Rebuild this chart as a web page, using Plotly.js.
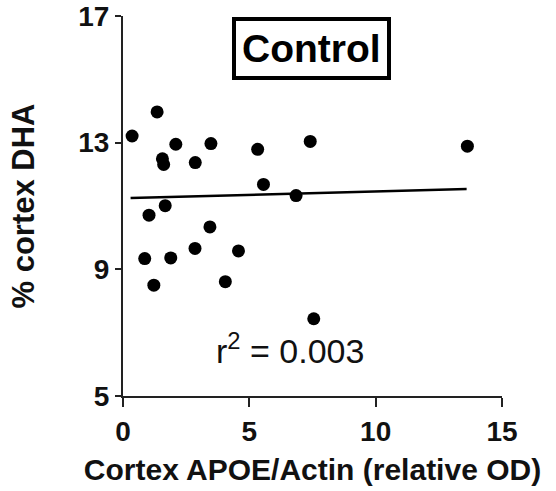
<!DOCTYPE html>
<html>
<head>
<meta charset="utf-8">
<script src="https://cdn.plot.ly/plotly-3.0.1.min.js"></script>
<style>html,body{margin:0;padding:0;background:#fff;}#chart{width:556px;height:491px;}</style>
</head>
<body>
<div id="chart"></div>
<script>
// Data
const apoe = [0.36, 1.35, 2.09, 3.48, 1.56, 1.61, 2.86, 5.33, 7.41, 13.63, 5.56, 6.85, 1.67, 1.03, 3.44, 2.85, 4.57, 0.86, 1.89, 1.22, 4.05, 7.55];
const dha  = [13.21, 13.97, 12.95, 12.97, 12.49, 12.31, 12.37, 12.79, 13.04, 12.89, 11.68, 11.33, 11.01, 10.71, 10.34, 9.66, 9.58, 9.34, 9.36, 8.50, 8.61, 7.44];
const fitX = [0.3, 13.6];
const fitY = [11.25, 11.54];
const xTicks = [0, 5, 10, 15];
const yTicks = [5, 9, 13, 17];
const groupLabel = 'Control';
const r2Label = 'r<sup>2</sup> = 0.003';
const xTitle = 'Cortex APOE/Actin (relative OD)';
const yTitle = '% cortex DHA';

const FONT = 'Liberation Sans, Arial, sans-serif';
const traces = [
  {x: fitX, y: fitY, mode: 'lines', type: 'scatter', line: {color: '#000', width: 2.5}, hoverinfo: 'skip'},
  {x: apoe, y: dha, mode: 'markers', type: 'scatter', marker: {color: '#000', size: 13}, cliponaxis: false}
];
const axisCommon = {
  showline: true, linecolor: '#222', linewidth: 2, ticks: 'outside', tickwidth: 2, tickcolor: '#222',
  showgrid: false, zeroline: false, mirror: false,
  tickfont: {family: FONT, size: 28, weight: 'bold', color: '#111'}
};
const layout = {
  width: 556, height: 491,
  margin: {l: 123, r: 54, t: 16, b: 95, pad: 0},
  paper_bgcolor: '#fff', plot_bgcolor: '#fff',
  showlegend: false,
  xaxis: Object.assign({}, axisCommon, {
    range: [0, 15], tickvals: xTicks, ticktext: xTicks.map(String), ticklen: 9,
    title: {text: xTitle, font: {family: FONT, size: 30, weight: 'bold', color: '#111'}, standoff: 13}
  }),
  yaxis: Object.assign({}, axisCommon, {
    range: [5, 17], tickvals: yTicks, ticktext: yTicks.map(String), ticklen: 6,
    title: {text: yTitle, font: {family: FONT, size: 31, weight: 'bold', color: '#111'}, standoff: 34}
  }),
  annotations: [
    {x: 7.48, y: 15.98, xref: 'x', yref: 'y', text: groupLabel, showarrow: false,
     font: {family: FONT, size: 39, weight: 'bold', color: '#000'},
     bordercolor: '#000', borderwidth: 4, borderpad: 6, bgcolor: '#fff'},
    {x: 6.6, y: 6.5, xref: 'x', yref: 'y', text: r2Label, showarrow: false,
     font: {family: FONT, size: 34, color: '#111'}}
  ]
};
Plotly.newPlot('chart', traces, layout, {displayModeBar: false, staticPlot: true});
</script>
</body>
</html>
